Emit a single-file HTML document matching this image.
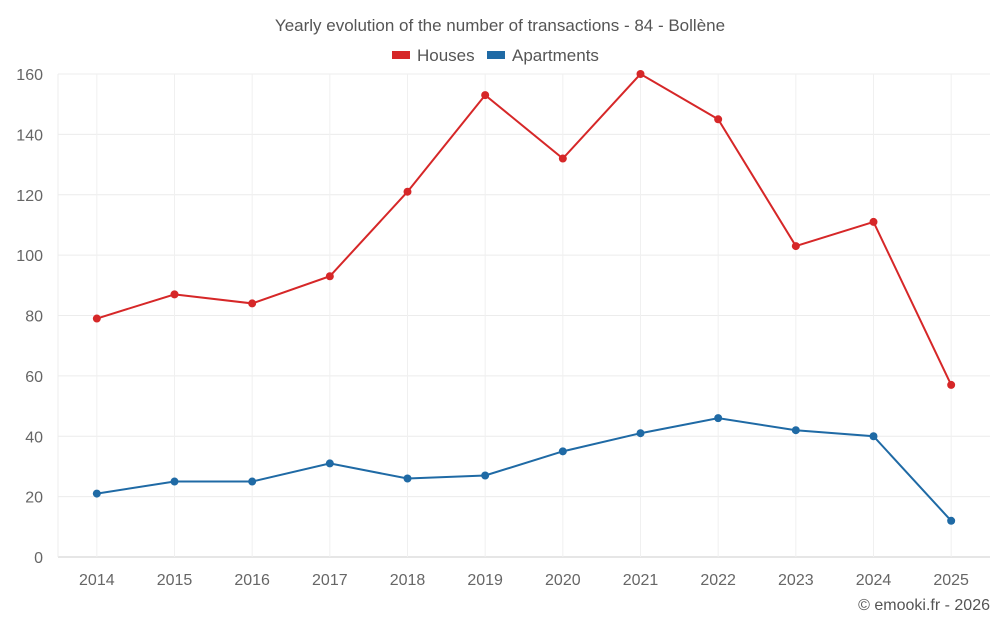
<!DOCTYPE html>
<html><head><meta charset="utf-8"><style>
body{margin:0;background:#fff;font-family:"Liberation Sans",Roboto,sans-serif;}
svg text{font-family:"Liberation Sans",sans-serif;}
</style></head><body>
<svg id="c" width="1000" height="625" xmlns="http://www.w3.org/2000/svg">
<text x="500" y="31" text-anchor="middle" font-size="17" fill="#555">Yearly evolution of the number of transactions - 84 - Bollène</text>
<g><rect x="392" y="51" width="18" height="8" fill="#d62728"/><text x="417" y="61" font-size="17" fill="#555">Houses</text></g>
<g><rect x="487" y="51" width="18" height="8" fill="#1f6aa5"/><text x="512" y="61" font-size="17" fill="#555">Apartments</text></g>
<text x="990" y="610" text-anchor="end" font-size="16" fill="#555">© emooki.fr - 2026</text>
<g id="grid"></g><g id="axes"></g><g id="series"></g>
</svg>
<script>
const years=["2014","2015","2016","2017","2018","2019","2020","2021","2022","2023","2024","2025"];
const houses=[79,87,84,93,121,153,132,160,145,103,111,57];
const apartments=[21,25,25,31,26,27,35,41,46,42,40,12];
const yTicks=[0,20,40,60,80,100,120,140,160];
const L=58,R=990,T=74,B=557,yMax=160;
const bw=(R-L)/years.length;
const x=i=>L+bw*(i+0.5);
const y=v=>B-(v/yMax)*(B-T);
const NS="http://www.w3.org/2000/svg";
function mk(tag,attrs,parent){const e=document.createElementNS(NS,tag);for(const k in attrs)e.setAttribute(k,attrs[k]);parent.appendChild(e);return e;}
const grid=document.getElementById('grid'),axes=document.getElementById('axes'),series=document.getElementById('series');
yTicks.forEach(t=>{
 const l=mk('line',{x1:L,x2:R,y1:y(t),y2:y(t),stroke:t===0?'#ccc':'#ececec','stroke-width':1},grid);
 
 
 const tx=mk('text',{x:43,y:y(t)+6,'text-anchor':'end','font-size':16,fill:'#666'},axes);
 tx.textContent=t;
 
 
});
mk('line',{x1:L,x2:L,y1:T,y2:B,stroke:'#ececec'},grid);
years.forEach((yr,i)=>{
 const l=mk('line',{x1:x(i),x2:x(i),y1:T,y2:B,stroke:'#f0f0f0'},grid);
 
 
 const tx=mk('text',{x:x(i),y:585,'text-anchor':'middle','font-size':16,fill:'#666'},axes);
 tx.textContent=yr;
 
 
});
function draw(data,color,name){
 const p=mk('polyline',{points:data.map((v,i)=>x(i)+','+y(v)).join(' '),fill:'none',stroke:color,'stroke-width':2},series);
 
 
 data.forEach((v,i)=>{
  const c=mk('circle',{cx:x(i),cy:y(v),r:4,fill:color},series);
  
  
 });
}
draw(houses,'#d62728','houses');
draw(apartments,'#1f6aa5','apartments');
</script>
</body></html>
